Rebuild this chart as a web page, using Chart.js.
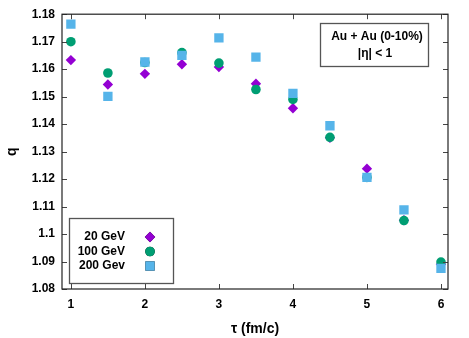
<!DOCTYPE html>
<html>
<head>
<meta charset="utf-8">
<script src="https://cdn.jsdelivr.net/npm/chart.js@4/dist/chart.umd.min.js"></script>
<style>
  html, body { margin:0; padding:0; background:#fff; }
  #wrap { width:469px; height:338px; position:relative; }
</style>
</head>
<body>
<div id="wrap"><canvas id="c" width="469" height="338"></canvas></div>
<script>
'use strict';

/* ── DATA ─────────────────────────────────── */
const tau    = [1, 1.5, 2, 2.5, 3, 3.5, 4, 4.5, 5, 5.5, 6];
const q20    = [1.1633, 1.1544, 1.1583, 1.1618, 1.1608, 1.1547, 1.1458, 1.1350, 1.1238, 1.1050, 1.0890];
const q100   = [1.1700, 1.1586, 1.1624, 1.1660, 1.1622, 1.1526, 1.1490, 1.1352, 1.1206, 1.1049, 1.0898];
const q200   = [1.1764, 1.1501, 1.1626, 1.1650, 1.1714, 1.1644, 1.1512, 1.1394, 1.1206, 1.1088, 1.0875];
const seriesNames = ['20 GeV', '100 GeV', '200 Gev'];
const xTicks = [1, 2, 3, 4, 5, 6];
const yTicks = [1.08, 1.09, 1.10, 1.11, 1.12, 1.13, 1.14, 1.15, 1.16, 1.17, 1.18];
const noteLines = ['Au + Au (0-10%)', '|\u03b7| < 1'];

const COLORS  = ['#9400D3', '#009E73', '#56B4E9'];
const STYLES  = ['rectRot', 'circle', 'rect'];
const RADII   = [5.2, 4.8, 6.6];
const FONT    = '"Liberation Sans", Arial, sans-serif';

const pts = arr => tau.map((t, i) => ({ x: t, y: arr[i] }));

/* ── PLUGINS ──────────────────────────────── */
// gnuplot style frame with inward ticks on all four sides
const framePlugin = {
  id: 'frame',
  afterDatasetsDraw(chart) {
    const { ctx, chartArea: a, scales } = chart;
    ctx.save();
    ctx.strokeStyle = '#444';
    ctx.lineWidth = 1;
    const tl = 5;
    ctx.beginPath();
    xTicks.forEach(v => {
      const px = Math.round(scales.x.getPixelForValue(v)) + 0.5;
      ctx.moveTo(px, a.bottom); ctx.lineTo(px, a.bottom - tl);
      ctx.moveTo(px, a.top);    ctx.lineTo(px, a.top + tl);
    });
    yTicks.forEach(v => {
      const py = Math.round(scales.y.getPixelForValue(v)) + 0.5;
      ctx.moveTo(a.left, py);  ctx.lineTo(a.left + tl, py);
      ctx.moveTo(a.right, py); ctx.lineTo(a.right - tl, py);
    });
    ctx.stroke();
    ctx.strokeStyle = '#222';
    ctx.lineWidth = 1.2;
    ctx.strokeRect(a.left, a.top, a.right - a.left, a.bottom - a.top);
    ctx.restore();
  }
};

// legend box (bottom-left) and annotation box (top-right)
const boxesPlugin = {
  id: 'boxes',
  afterDraw(chart) {
    const { ctx } = chart;
    ctx.save();
    ctx.strokeStyle = '#555';
    ctx.lineWidth = 1.3;
    ctx.fillStyle = '#fff';

    // legend
    ctx.fillRect(69, 218, 104, 65);
    ctx.strokeRect(69.5, 218.5, 104, 65);
    ctx.font = 'bold 12px ' + FONT;
    ctx.textAlign = 'right';
    ctx.textBaseline = 'middle';
    seriesNames.forEach((n, i) => {
      const y = 237 + i * 14.5;
      ctx.fillStyle = '#000';
      ctx.fillText(n, 125, y);
      Chart.helpers.drawPoint(ctx, {
        pointStyle: STYLES[i], radius: RADII[i], rotation: 0, borderWidth: 0
      }, 150, y);
      ctx.fillStyle = COLORS[i];
      ctx.fill();
    });

    // annotation
    ctx.fillStyle = '#fff';
    ctx.fillRect(320, 23, 108, 43);
    ctx.strokeRect(320.5, 23.5, 108, 43);
    ctx.fillStyle = '#000';
    ctx.textAlign = 'center';
    ctx.fillText(noteLines[0], 377, 37);
    ctx.fillText(noteLines[1], 375, 54);
    ctx.restore();
  }
};

/* ── CHART ────────────────────────────────── */
const mkSet = (i, data, order) => ({
  label: seriesNames[i],
  data: pts(data),
  pointStyle: STYLES[i],
  pointRadius: RADII[i],
  pointHoverRadius: RADII[i],
  backgroundColor: COLORS[i],
  borderColor: COLORS[i],
  borderWidth: 0,
  showLine: false,
  order
});

new Chart(document.getElementById('c'), {
  type: 'scatter',
  data: {
    datasets: [mkSet(0, q20, 3), mkSet(1, q100, 2), mkSet(2, q200, 1)]
  },
  options: {
    responsive: false,
    animation: false,
    devicePixelRatio: 1,
    layout: { padding: { top: 8, right: 21, left: 0, bottom: 0 } },
    plugins: { legend: { display: false }, tooltip: { enabled: false } },
    scales: {
      x: {
        type: 'linear', min: 0.88, max: 6.095,
        afterBuildTicks: s => { s.ticks = xTicks.map(v => ({ value: v })); },
        afterFit: s => { s.height = 49; },
        grid: { display: false, drawTicks: false },
        border: { display: false },
        ticks: { color: '#000', padding: 8, font: { family: FONT, size: 12, weight: 'bold' }, maxRotation: 0 },
        title: { display: true, text: '\u03c4 (fm/c)', color: '#000', padding: { top: 4, bottom: 0 },
                 font: { family: FONT, size: 14, weight: 'bold' } }
      },
      y: {
        type: 'linear', min: 1.08, max: 1.18,
        afterBuildTicks: s => { s.ticks = yTicks.map(v => ({ value: v })); },
        afterFit: s => { s.width = 62; },
        grid: { display: false, drawTicks: false },
        border: { display: false },
        ticks: { color: '#000', padding: 7, font: { family: FONT, size: 12, weight: 'bold' },
                 callback: v => String(parseFloat(v.toFixed(2))) },
        title: { display: true, text: 'q', color: '#000', padding: { top: 4, bottom: 4 },
                 font: { family: FONT, size: 14, weight: 'bold' } }
      }
    }
  },
  plugins: [framePlugin, boxesPlugin]
});
</script>
</body>
</html>
